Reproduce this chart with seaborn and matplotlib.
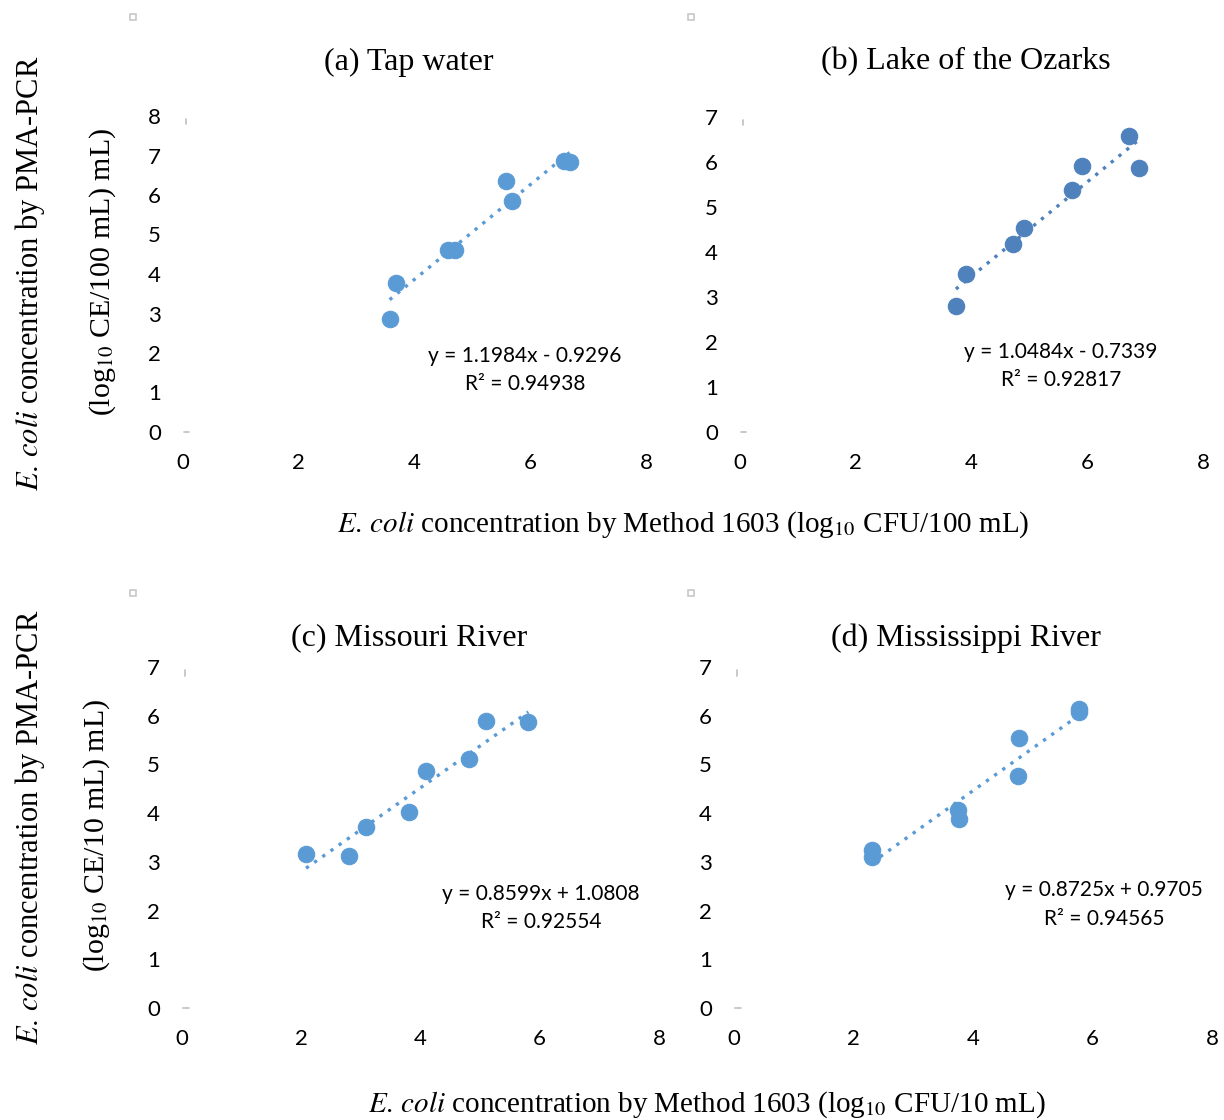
import numpy as np
import pandas as pd
import seaborn as sns
import matplotlib.pyplot as plt
from matplotlib.patches import Rectangle
from matplotlib.lines import Line2D

# Method 1603 (x) vs PMA-PCR (y), log10 concentrations
tap_x = [3.57, 3.68, 4.58, 4.70, 5.58, 5.68, 6.58, 6.68]
tap_y = [2.86, 3.77, 4.61, 4.61, 6.35, 5.85, 6.85, 6.84]
ozark_x = [3.73, 3.90, 4.72, 4.91, 5.73, 5.91, 6.72, 6.89]
ozark_y = [2.80, 3.51, 4.18, 4.53, 5.38, 5.91, 6.58, 5.87]
missouri_x = [2.08, 2.80, 3.09, 3.81, 4.09, 4.82, 5.10, 5.81]
missouri_y = [3.16, 3.12, 3.72, 4.02, 4.87, 5.11, 5.89, 5.87]
mississippi_x = [2.31, 2.31, 3.75, 3.76, 4.75, 4.77, 5.77, 5.78]
mississippi_y = [3.24, 3.10, 4.06, 3.88, 4.76, 5.54, 6.14, 6.08]

titles = ["(a) Tap water", "(b) Lake of the Ozarks", "(c) Missouri River", "(d) Mississippi River"]
slopes = [1.1984, 1.0484, 0.8599, 0.8725]
intercepts = [-0.9296, -0.7339, 1.0808, 0.9705]
eq_labels = ["y = 1.1984x - 0.9296", "y = 1.0484x - 0.7339", "y = 0.8599x + 1.0808", "y = 0.8725x + 0.9705"]
r2_labels = ["R² = 0.94938", "R² = 0.92817", "R² = 0.92554", "R² = 0.94565"]
y_maxes = [8, 7, 7, 7]
x_ticks = [0, 2, 4, 6, 8]

sns.set_theme(style="white")
plt.rcParams["font.family"] = ["Lato", "DejaVu Sans"]
plt.rcParams["mathtext.fontset"] = "stix"
plt.rcParams["text.color"] = "black"

W, H = 1224, 1120
fig = plt.figure(figsize=(W / 100, H / 100), dpi=100)


def fx(px):
    return px / W


def fy(py):
    return 1 - py / H


# axes boxes in pixels: left, right, top (at y max), bottom (at 0)
boxes = [(183, 646, 116, 432), (740, 1203, 117, 432), (182, 659, 667, 1008), (734, 1212, 667, 1008)]
colors = ["#5B9BD5", "#4F81BD", "#5B9BD5", "#5B9BD5"]
xs = [tap_x, ozark_x, missouri_x, mississippi_x]
ys = [tap_y, ozark_y, missouri_y, mississippi_y]
title_pos = [(409, 62), (966, 62), (409, 638), (966, 638)]
eq_pos = [(525, 356), (1061, 352), (541, 894), (1104, 890)]
r2_pos = [(525, 384), (1061, 380), (541, 922), (1104, 919)]

for i in range(4):
    l, r, t, b = boxes[i]
    ax = fig.add_axes([fx(l), fy(b), (r - l) / W, (b - t) / H])
    df = pd.DataFrame({"x": xs[i], "y": ys[i]})
    sns.scatterplot(data=df, x="x", y="y", ax=ax, color=colors[i], s=140,
                    edgecolor=colors[i], linewidth=0.8, zorder=3)
    xr = np.array([min(xs[i]), max(xs[i])])
    sns.lineplot(x=xr, y=slopes[i] * xr + intercepts[i], ax=ax, color=colors[i],
                 linestyle=(0, (1, 2)), linewidth=2.4, zorder=2)
    ax.set_xlim(0, 8)
    ax.set_ylim(0, y_maxes[i])
    ax.set_xticks(x_ticks)
    ax.set_yticks(range(0, y_maxes[i] + 1))
    ax.tick_params(axis="both", length=0, labelsize=16, colors="black")
    ax.tick_params(axis="x", pad=15)
    ax.tick_params(axis="y", pad=16)
    ax.set_xlabel("")
    ax.set_ylabel("")
    for s in ax.spines.values():
        s.set_visible(False)
    ax.set_facecolor("none")
    # faint vertical axis ends
    ax.add_line(Line2D([0.006, 0.006], [0.975, 0.99], transform=ax.transAxes,
                       color="#BFBFBF", lw=1.2, clip_on=False))
    ax.add_line(Line2D([0.002, 0.014], [0.0, 0.0], transform=ax.transAxes,
                       color="#BFBFBF", lw=1.2, clip_on=False))

    fig.text(fx(title_pos[i][0]), fy(title_pos[i][1]), titles[i], ha="center", va="center",
             fontsize=23, family="Liberation Serif", color="black")
    fig.text(fx(eq_pos[i][0]), fy(eq_pos[i][1]), eq_labels[i], ha="center", va="center",
             fontsize=15, color="black")
    fig.text(fx(r2_pos[i][0]), fy(r2_pos[i][1]), r2_labels[i], ha="center", va="center",
             fontsize=15, color="black")

# small frame markers at the top-left of each chart block
for (px, py) in [(133, 17), (691, 17), (133, 593), (691, 593)]:
    fig.patches.append(Rectangle((fx(px - 3), fy(py + 3)), 6 / W, 6 / H, transform=fig.transFigure,
                                 facecolor="white", edgecolor="#C8C8C8", lw=1.2))

serif = "Liberation Serif"
fig.text(fx(30), fy(273), r"$E.\,coli$ concentration by PMA-PCR", rotation=90, ha="center",
         va="center", fontsize=22, family=serif, color="black")
fig.text(fx(103), fy(272), r"(log$_{10}$ CE/100 mL) mL)", rotation=90, ha="center",
         va="center", fontsize=21.5, family=serif, color="black")
fig.text(fx(30), fy(827), r"$E.\,coli$ concentration by PMA-PCR", rotation=90, ha="center",
         va="center", fontsize=22, family=serif, color="black")
fig.text(fx(97), fy(835), r"(log$_{10}$ CE/10 mL) mL)", rotation=90, ha="center",
         va="center", fontsize=21.5, family=serif, color="black")
fig.text(fx(683), fy(525), r"$E.\,coli$ concentration by Method 1603 (log$_{10}$ CFU/100 mL)",
         ha="center", va="center", fontsize=21, family=serif, color="black")
fig.text(fx(707), fy(1105), r"$E.\,coli$ concentration by Method 1603 (log$_{10}$ CFU/10 mL)",
         ha="center", va="center", fontsize=21, family=serif, color="black")

fig.savefig("out.png", dpi=100, facecolor="white")
